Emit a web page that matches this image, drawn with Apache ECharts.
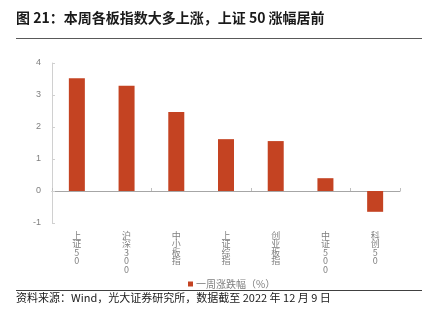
<!DOCTYPE html>
<html>
<head>
<meta charset="utf-8">
<script src="https://cdn.jsdelivr.net/npm/echarts@6/dist/echarts.min.js"></script>
<style>
  html, body { margin: 0; padding: 0; background: #fff; }
  #chart { width: 431px; height: 327px; }
</style>
</head>
<body>
<div id="chart"></div>
<script>
// Weekly change of major A-share indices (%)
const categories = ['上证50', '沪深300', '中小板指', '上证综指', '创业板指', '中证500', '科创50'];
const weeklyChange = [3.52, 3.29, 2.47, 1.62, 1.56, 0.40, -0.65];
const seriesName = '一周涨跌幅（%）';
const yTicks = { min: -1, max: 4, interval: 1 };

const titleText = '图 21：本周各板指数大多上涨，上证 50 涨幅居前';
const sourceText = '资料来源：Wind，光大证券研究所，数据截至 2022 年 12 月 9 日';

const cjk = '"Noto Sans CJK SC", "Noto Sans", sans-serif';
const barColor = '#C44322';

// Stack each character vertically so the category names read top to bottom
function verticalLabel(s) {
  return s.split('').join('\n');
}

const chart = echarts.init(document.getElementById('chart'), null, { renderer: 'canvas' });

chart.setOption({
  animation: false,
  backgroundColor: '#fff',
  textStyle: { fontFamily: cjk },
  grid: { left: 52, right: 31, top: 63, bottom: 104, containLabel: false },
  legend: {
    data: [seriesName],
    bottom: 33,
    left: 183,
    itemWidth: 5,
    itemHeight: 5,
    itemGap: 3,
    icon: 'rect',
    textStyle: { fontSize: 10, color: '#7f7f7f', fontFamily: cjk, padding: [0, 0, 0, -2] }
  },
  xAxis: [
    {
      type: 'category',
      data: categories,
      axisLine: { onZero: true, lineStyle: { color: '#a6a6a6', width: 1 } },
      axisTick: { show: true, inside: true, length: 3, lineStyle: { color: '#bfbfbf' } },
      axisLabel: { show: false },
      splitLine: { show: false }
    },
    {
      type: 'category',
      data: categories,
      position: 'bottom',
      axisLine: { show: false, onZero: false },
      axisTick: { show: false },
      axisLabel: {
        show: true,
        interval: 0,
        margin: 8,
        fontSize: 9,
        lineHeight: 8.5,
        color: '#7f7f7f',
        fontFamily: cjk,
        verticalAlign: 'top',
        formatter: verticalLabel
      }
    }
  ],
  yAxis: {
    type: 'value',
    min: yTicks.min,
    max: yTicks.max,
    interval: yTicks.interval,
    axisLine: { show: true, lineStyle: { color: '#d0d0d0', width: 1 } },
    axisTick: { show: true, inside: true, length: 3, lineStyle: { color: '#d0d0d0' } },
    axisLabel: { fontSize: 9, color: '#7f7f7f', margin: 11, fontFamily: 'Liberation Sans, Arial, sans-serif' },
    splitLine: { show: false }
  },
  series: [
    {
      name: seriesName,
      type: 'bar',
      xAxisIndex: 0,
      data: weeklyChange,
      barWidth: 16,
      itemStyle: { color: barColor }
    }
  ],
  graphic: [
    {
      type: 'text',
      left: 16,
      top: 11,
      style: { text: titleText, font: 'bold 14px ' + cjk, fill: '#1a1a1a' }
    },
    {
      type: 'line',
      shape: { x1: 16, y1: 38.5, x2: 422, y2: 38.5 },
      style: { stroke: '#595959', lineWidth: 1.2 }
    },
    {
      type: 'line',
      shape: { x1: 16, y1: 290.5, x2: 422, y2: 290.5 },
      style: { stroke: '#404040', lineWidth: 1 }
    },
    {
      type: 'text',
      left: 16,
      top: 292,
      style: { text: sourceText, font: '11px ' + cjk, fill: '#1a1a1a' }
    }
  ]
});
</script>
</body>
</html>
